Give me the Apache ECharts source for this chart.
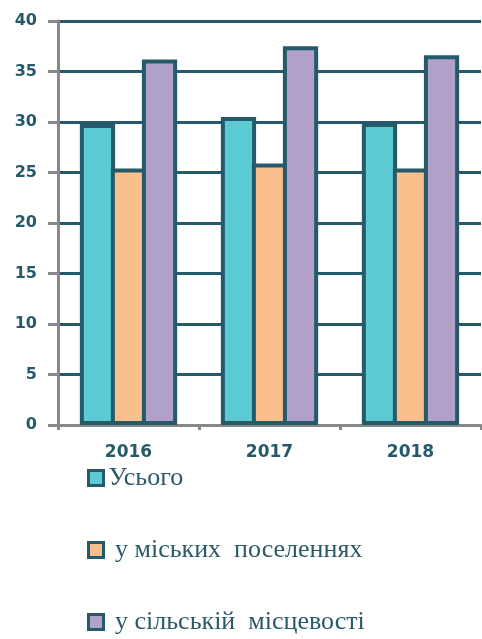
<!DOCTYPE html>
<html>
<head>
<meta charset="utf-8">
<script src="https://cdn.jsdelivr.net/npm/echarts@6/dist/echarts.min.js"></script>
<style>
  html, body { margin: 0; padding: 0; background: #fff; }
  #chart { width: 482px; height: 639px; }
</style>
</head>
<body>
<div id="chart"></div>
<script>
// дані
const years = ['2016', '2017', '2018'];
const total = [29.8, 30.5, 29.9];
const urban = [25.4, 25.9, 25.4];
const rural = [36.2, 37.5, 36.6];
const seriesNames = ['Усього', ' у міських  поселеннях', ' у сільській  місцевості'];

const dark = '#245a6a';
const colors = ['#5ccbd3', '#f9c08e', '#b1a1c8'];

const chart = echarts.init(document.getElementById('chart'));

function bar(name, data, color) {
    return {
        name: name,
        type: 'bar',
        data: data,
        barGap: '-12%',
        barCategoryGap: '31%',
        itemStyle: { color: color, borderColor: dark, borderWidth: 4 }
    };
}

const option = {
    animation: false,
    grid: { left: 58, right: 1, top: 21, bottom: 214 },
    legend: {
        orient: 'vertical',
        left: 87,
        top: 465,
        padding: 0,
        itemWidth: 15,
        itemHeight: 15,
        itemGap: 46,
        icon: 'rect',
        itemStyle: { borderColor: dark, borderWidth: 3 },
        textStyle: {
            fontFamily: 'Liberation Serif',
            fontSize: 26,
            color: '#2a5a68',
            lineHeight: 26
        },
        data: seriesNames
    },
    xAxis: {
        type: 'category',
        data: years,
        axisLine: { lineStyle: { color: '#888', width: 3 } },
        axisTick: { show: true, length: 5, lineStyle: { color: '#888', width: 3 } },
        axisLabel: {
            margin: 19,
            fontFamily: 'DejaVu Sans',
            fontWeight: 'bold',
            fontSize: 17,
            color: dark
        }
    },
    yAxis: {
        type: 'value',
        min: 0,
        max: 40,
        interval: 5,
        axisLine: { show: true, lineStyle: { color: '#888', width: 3 } },
        axisTick: { show: true, length: 10, lineStyle: { color: '#888', width: 3 } },
        axisLabel: {
            margin: 21,
            fontFamily: 'DejaVu Sans',
            fontWeight: 'bold',
            fontSize: 16,
            color: dark
        },
        splitLine: { lineStyle: { color: dark, width: 3 } }
    },
    series: [
        bar(seriesNames[0], total, colors[0]),
        bar(seriesNames[1], urban, colors[1]),
        bar(seriesNames[2], rural, colors[2])
    ]
};

chart.setOption(option);
</script>
</body>
</html>
